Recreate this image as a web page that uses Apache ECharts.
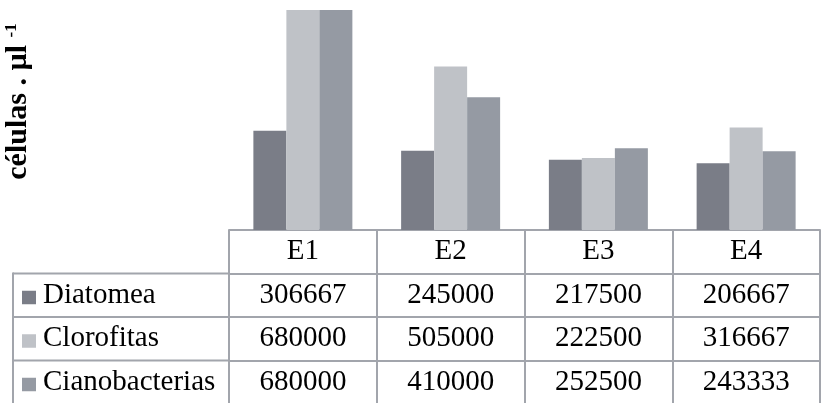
<!DOCTYPE html>
<html>
<head>
<meta charset="utf-8">
<script src="https://cdn.jsdelivr.net/npm/echarts@6/dist/echarts.min.js"></script>
<style>
  html, body { margin: 0; padding: 0; background: #fff; }
  #chart { width: 821px; height: 403px; }
</style>
</head>
<body>
<div id="chart"></div>
<script>
// Sampling stations and cell counts per group (células · µl⁻¹)
const categories = ['E1', 'E2', 'E3', 'E4'];
const seriesNames = ['Diatomea', 'Clorofitas', 'Cianobacterias'];
const diatomea = [306667, 245000, 217500, 206667];
const clorofitas = [680000, 505000, 222500, 316667];
const cianobacterias = [680000, 410000, 252500, 243333];
const seriesValues = [diatomea, clorofitas, cianobacterias];

const colors = ['#7a7d87', '#bfc2c7', '#959aa3'];
const lineColor = '#a2a5ac';
const serif = 'Liberation Serif';
const fontSize = 29;

// Data table geometry (below the plot area)
const gridLeft = 229, gridTop = 10, plotBottom = 230, W = 821, H = 403;
const rowH = 43.5;
const tableLeft = 13;

const chart = echarts.init(document.getElementById('chart'), null, { renderer: 'canvas' });

// Header axis: category labels, top border of the table and column dividers
const xAxes = [{
  type: 'category',
  data: categories,
  position: 'bottom',
  boundaryGap: true,
  axisLine: { show: true, lineStyle: { color: lineColor, width: 2 } },
  axisTick: { show: true, alignWithLabel: false, length: H - plotBottom, lineStyle: { color: lineColor, width: 2 } },
  axisLabel: {
    interval: 0, margin: rowH / 2, verticalAlign: 'middle',
    color: '#000', fontFamily: serif, fontSize: fontSize
  },
  splitLine: { show: false }
}];

// One axis per table row: its line is the row's top border, its labels are the values
seriesValues.forEach(function (vals, i) {
  xAxes.push({
    type: 'category',
    data: categories,
    position: 'bottom',
    offset: rowH * (i + 1),
    boundaryGap: true,
    axisLine: { show: true, lineStyle: { color: lineColor, width: 2 } },
    axisTick: { show: false },
    axisLabel: {
      interval: 0, margin: rowH / 2, verticalAlign: 'middle',
      color: '#000', fontFamily: serif, fontSize: fontSize,
      formatter: function (v, idx) { return String(vals[idx]); }
    },
    name: '{sq|}{t|' + seriesNames[i] + '}',
    nameLocation: 'start',
    nameGap: gridLeft - 22,
    nameTextStyle: {
      align: 'left', verticalAlign: 'middle',
      fontFamily: serif, fontSize: fontSize,
      padding: [rowH, 0, 0, 0],
      rich: {
        // legend key sits on the text baseline
        sq: { width: 14, height: 13.5, backgroundColor: colors[i], verticalAlign: 'bottom' },
        t: { fontFamily: serif, fontSize: fontSize, color: '#000', lineHeight: 18, padding: [0, 0, 0, 7] }
      }
    },
    splitLine: { show: false }
  });
});

const series = seriesNames.map(function (name, i) {
  return {
    name: name,
    type: 'bar',
    xAxisIndex: 0,
    data: seriesValues[i],
    barGap: '0%',
    barCategoryGap: '33%',
    itemStyle: { color: colors[i] },
    emphasis: { disabled: true }
  };
});

// Row borders of the label column and its left edge
const tableLines = [];
for (let r = 1; r <= 3; r++) {
  const y = plotBottom + rowH * r;
  tableLines.push({
    type: 'line',
    shape: { x1: tableLeft, y1: y, x2: gridLeft, y2: y },
    style: { stroke: lineColor, lineWidth: 2 }
  });
}
tableLines.push({
  type: 'line',
  shape: { x1: tableLeft, y1: plotBottom + rowH - 1, x2: tableLeft, y2: H },
  style: { stroke: lineColor, lineWidth: 2 }
});

// Rotated axis title with superscript exponent
const yTitle = {
  type: 'text',
  x: 18,
  y: 101.5,
  rotation: Math.PI / 2,
  style: {
    text: '{m|células . µl }{s|-1}',
    align: 'center',
    verticalAlign: 'middle',
    rich: {
      m: { fontFamily: serif, fontWeight: 'bold', fontSize: 30, color: '#000', lineHeight: 30, verticalAlign: 'bottom' },
      s: { fontFamily: serif, fontWeight: 'bold', fontSize: 17, color: '#000', verticalAlign: 'top', lineHeight: 17 }
    }
  }
};

chart.setOption({
  animation: false,
  backgroundColor: '#fff',
  grid: { left: gridLeft, right: 1, top: gridTop, bottom: H - plotBottom, containLabel: false },
  xAxis: xAxes,
  yAxis: {
    type: 'value', min: 0, max: 680000,
    axisLine: { show: false }, axisTick: { show: false },
    axisLabel: { show: false }, splitLine: { show: false }
  },
  series: series,
  graphic: tableLines.concat([yTitle])
});
</script>
</body>
</html>
